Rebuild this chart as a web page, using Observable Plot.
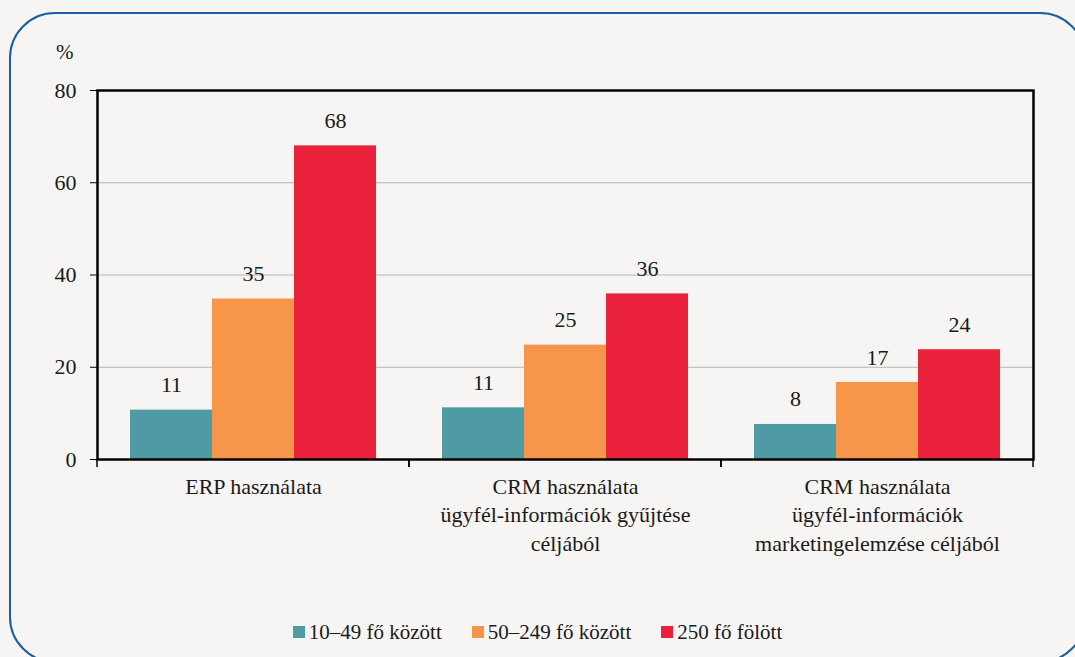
<!DOCTYPE html>
<html>
<head>
<meta charset="utf-8">
<script src="https://cdn.jsdelivr.net/npm/d3@7"></script>
<script src="https://cdn.jsdelivr.net/npm/@observablehq/plot@0.6"></script>
<style>
  html, body { margin: 0; padding: 0; background: #f6f5f3; }
  #wrap { position: relative; width: 1075px; height: 657px; overflow: hidden; background: #f6f5f3; font-family: "Liberation Serif", serif; color: #1a1a1a; }
  #border { position: absolute; left: 9px; top: 12px; width: 1077px; height: 651px; border: 2px solid #1c5f9e; border-radius: 46px; box-sizing: border-box; }
  #chart { position: absolute; left: 0; top: 0; }
  #unit { position: absolute; left: 56px; top: 39px; font-size: 21px; line-height: 26px; }
  #legend { position: absolute; left: 0; top: 619px; width: 1075px; display: flex; justify-content: center; font-size: 21px; line-height: 26px; }
  .item { display: flex; align-items: center; margin: 0 15px; }
  .sw { width: 12px; height: 12px; margin-right: 4px; }
</style>
</head>
<body>
<div id="wrap">
  <div id="border"></div>
  <div id="chart"></div>
  <div id="unit">%</div>
  <div id="legend"></div>
</div>
<script>
const categories = [
  "ERP használata",
  "CRM használata\nügyfél-információk gyűjtése\ncéljából",
  "CRM használata\nügyfél-információk\nmarketingelemzése céljából"
];
const series = ["10–49 fő között", "50–249 fő között", "250 fő fölött"];
const colors = ["#4e9ba4", "#f7954a", "#e9213b"];
// values per series (one per category)
const small  = [10.7, 11.2, 7.6];
const medium = [34.8, 24.8, 16.7];
const large  = [68.0, 35.9, 23.8];
// printed labels
const smallLabels  = [11, 11, 8];
const mediumLabels = [35, 25, 17];
const largeLabels  = [68, 36, 24];
const yTicks = [0, 20, 40, 60, 80];
const gridTicks = [20, 40, 60];

const seriesValues = [small, medium, large];
const seriesLabels = [smallLabels, mediumLabels, largeLabels];
const data = [];
categories.forEach((c, ci) => {
  series.forEach((s, si) => {
    data.push({category: c, series: s, value: seriesValues[si][ci], label: String(seriesLabels[si][ci])});
  });
});

const edgeTicks = (index, scales, values, dims) => {
  const g = d3.create("svg:g");
  const y0 = dims.height - dims.marginBottom;
  for (const x of [dims.marginLeft, dims.width - dims.marginRight]) {
    g.append("line").attr("x1", x).attr("x2", x).attr("y1", y0).attr("y2", y0 + 8)
      .attr("stroke", "black").attr("stroke-width", 1.5);
  }
  return g.node();
};

const chart = Plot.plot({
  width: 1075,
  height: 600,
  marginLeft: 97,
  marginRight: 42,
  marginTop: 90,
  marginBottom: 141,
  fx: {domain: categories, padding: 0, label: null},
  x: {domain: series, paddingInner: 0, paddingOuter: 0.4, axis: null},
  y: {domain: [0, 80], label: null},
  color: {domain: series, range: colors},
  style: {fontFamily: "Liberation Serif, serif", fontSize: "22px", background: "transparent", color: "#1a1a1a", overflow: "visible"},
  marks: [
    Plot.gridY(gridTicks, {stroke: "#b5b5b5", strokeOpacity: 1, strokeWidth: 1.2}),
    Plot.barY(data, {fx: "category", x: "series", y: "value", fill: "series"}),
    Plot.text(data, {fx: "category", x: "series", y: "value", text: "label", dy: -25, fontSize: 22, fill: "#1a1a1a"}),
    Plot.axisY({ticks: yTicks, tickSize: 7, tickPadding: 14, fontSize: 22, label: null, stroke: "black"}),
    Plot.axisFx({anchor: "bottom", tickSize: 0, tickPadding: 14, fontSize: 22, lineHeight: 1.3, label: null}),
    edgeTicks,
    Plot.frame({facet: "super", stroke: "black", strokeWidth: 2.5})
  ]
});
document.getElementById("chart").appendChild(chart);

const legend = document.getElementById("legend");
series.forEach((s, i) => {
  const item = document.createElement("div");
  item.className = "item";
  const sw = document.createElement("div");
  sw.className = "sw";
  sw.style.background = colors[i];
  const t = document.createElement("span");
  t.textContent = s;
  item.appendChild(sw);
  item.appendChild(t);
  legend.appendChild(item);
});
</script>
</body>
</html>
